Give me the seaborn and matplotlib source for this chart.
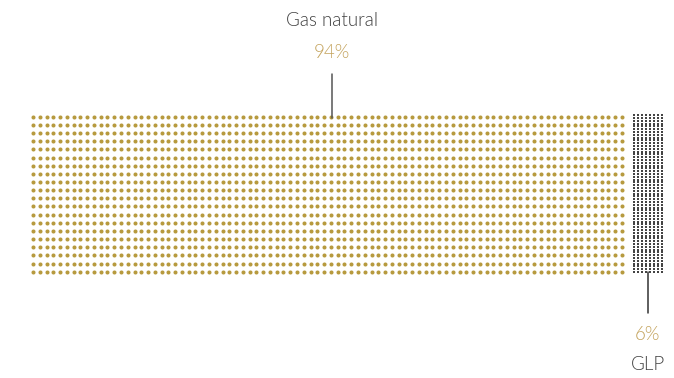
import numpy as np
import pandas as pd
import matplotlib
matplotlib.use("Agg")
import matplotlib.pyplot as plt
import seaborn as sns
from matplotlib import font_manager

# Data: share of each fuel and the dot grid used to draw it
categories = ["Gas natural", "GLP"]
shares = [94, 6]
grid_cols = [88, 8]
grid_rows = [20, 57]

# Styling / layout (pixel space)
dot_colors = ["#B79A3E", "#444444"]
label_color = "#C4A35C"
text_color = "#3E3E3E"
W, H = 674, 378

sns.set_theme(style="white")
names = {f.name for f in font_manager.fontManager.ttflist}
family = ["Lato", "DejaVu Sans"] if "Lato" in names else ["DejaVu Sans"]
plt.rcParams["font.family"] = family

fig = plt.figure(figsize=(W / 100, H / 100), dpi=100)
ax = fig.add_axes([0, 0, 1, 1])
ax.set_xlim(0, W)
ax.set_ylim(H, 0)
ax.axis("off")

# Grid geometry for each block: (x0, y0, dx, dy, marker, size)
blocks = [
    (33.0, 116.7, 6.77, 8.16, "o", 8.5),
    (633.8, 115.2, 4.02, 2.80, "s", 0.8),
]

for cat, ncol, nrow, color, (x0, y0, dx, dy, mk, s) in zip(
        categories, grid_cols, grid_rows, dot_colors, blocks):
    ii, jj = np.meshgrid(np.arange(ncol), np.arange(nrow))
    df = pd.DataFrame({"x": x0 + ii.ravel() * dx,
                       "y": y0 + jj.ravel() * dy,
                       "cat": cat})
    sns.scatterplot(data=df, x="x", y="y", color=color, marker=mk, s=s,
                    linewidth=0, ax=ax, legend=False)

ax.set_xlabel("")
ax.set_ylabel("")

# Leader lines and labels
ax.plot([331.5, 331.5], [74, 118], color="#555555", lw=1.1)
ax.plot([647.8, 647.8], [272, 313], color="#333333", lw=1.1)

txt = dict(ha="center", va="center", fontsize=13.5, fontweight=300)
ax.text(331.5, 21, categories[0], color=text_color, **txt)
ax.text(331.5, 53, f"{shares[0]}%", color=label_color, **txt)
ax.text(647.5, 334, f"{shares[1]}%", color=label_color, **txt)
ax.text(647.5, 365, categories[1], color=text_color, **txt)

fig.savefig("out.png", dpi=100, facecolor="white")
